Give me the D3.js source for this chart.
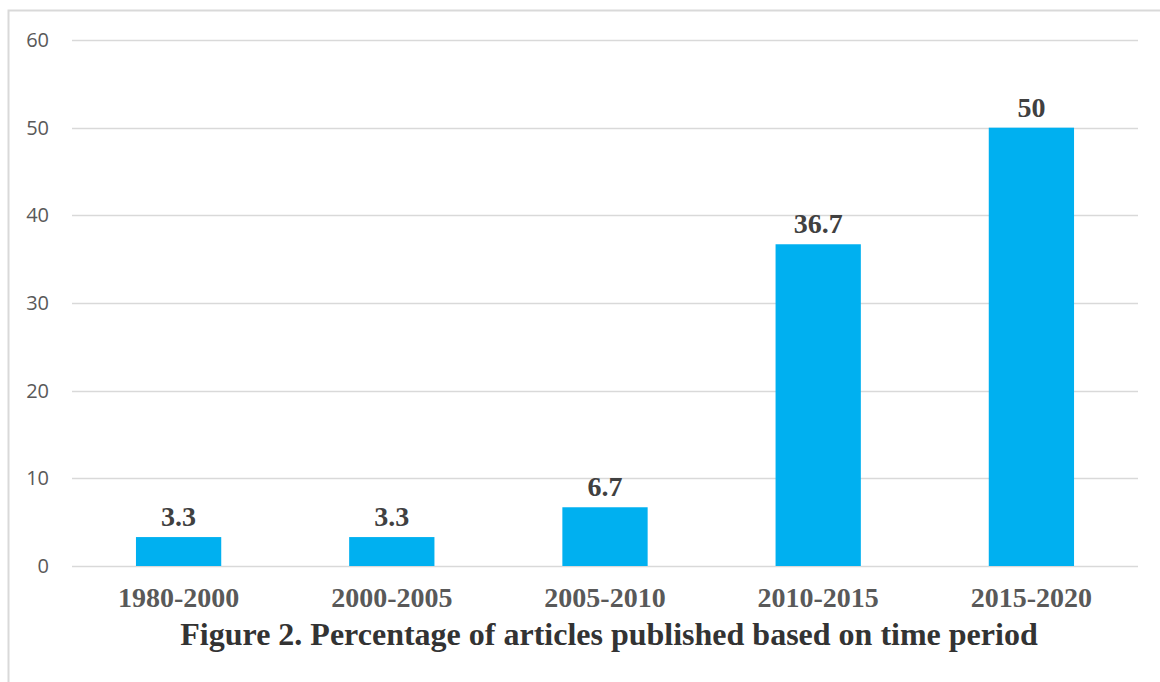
<!DOCTYPE html>
<meta charset="utf-8" />
<head>
  <style>
    body { margin: 0; background: #fff; }
    .bar { fill: #00b0f0; }
    .grid line { stroke: #d9d9d9; stroke-width: 1.5; }
    .ytick { font-family: "Open Sans", sans-serif; font-size: 20px; fill: #595959; }
    .xlab { font-family: "Liberation Serif", "Times New Roman", serif; font-weight: bold; font-size: 28px; fill: #595959; }
    .vlab { font-family: "Liberation Serif", "Times New Roman", serif; font-weight: bold; font-size: 28px; fill: #404040; }
    .title { font-family: "Liberation Serif", "Times New Roman", serif; font-weight: bold; font-size: 32px; fill: #333; }
  </style>
  <script src="https://d3js.org/d3.v7.min.js"></script>
</head>
<body>
  <svg width="1160" height="682"></svg>
  <script>
    const categories = ["1980-2000", "2000-2005", "2005-2010", "2010-2015", "2015-2020"];
    const values = [3.3, 3.3, 6.7, 36.7, 50];
    const yTicks = [0, 10, 20, 30, 40, 50, 60];
    const titleText = "Figure 2. Percentage of articles published based on time period";

    const svg = d3.select("svg");

    // outer frame (only left + top visible in the original)
    svg.append("path")
      .attr("d", "M8.5,682 V10.5 H1160")
      .attr("fill", "none")
      .attr("stroke", "#d9d9d9")
      .attr("stroke-width", 2);

    const plotLeft = 72, plotRight = 1138, plotTop = 40, plotBottom = 566;

    const x = d3.scaleBand().domain(categories).range([plotLeft, plotRight]).padding(0);
    const y = d3.scaleLinear().domain([0, 60]).range([plotBottom, plotTop]);
    const barW = x.bandwidth() * 0.4;

    // gridlines
    svg.append("g").attr("class", "grid")
      .selectAll("line")
      .data(yTicks)
      .enter()
      .append("line")
      .attr("x1", plotLeft)
      .attr("x2", plotRight)
      .attr("y1", d => Math.round(y(d)) + 0.5)
      .attr("y2", d => Math.round(y(d)) + 0.5);

    // y tick labels
    svg.selectAll(".ytick")
      .data(yTicks)
      .enter()
      .append("text")
      .attr("class", "ytick")
      .attr("x", 49)
      .attr("y", d => y(d))
      .attr("dy", "0.35em")
      .attr("text-anchor", "end")
      .text(d => d);

    // bars
    svg.selectAll(".bar")
      .data(values)
      .enter()
      .append("rect")
      .attr("class", "bar")
      .attr("x", (d, i) => x(categories[i]) + (x.bandwidth() - barW) / 2)
      .attr("y", d => y(d))
      .attr("width", barW)
      .attr("height", d => y(0) - y(d));

    // value labels
    svg.selectAll(".vlab")
      .data(values)
      .enter()
      .append("text")
      .attr("class", "vlab")
      .attr("x", (d, i) => x(categories[i]) + x.bandwidth() / 2)
      .attr("y", d => y(d) - 11)
      .attr("text-anchor", "middle")
      .text(d => d);

    // category labels
    svg.selectAll(".xlab")
      .data(categories)
      .enter()
      .append("text")
      .attr("class", "xlab")
      .attr("x", d => x(d) + x.bandwidth() / 2)
      .attr("y", 607)
      .attr("text-anchor", "middle")
      .text(d => d);

    svg.append("text")
      .attr("class", "title")
      .attr("x", 609)
      .attr("y", 645)
      .attr("text-anchor", "middle")
      .text(titleText);
  </script>
</body>
